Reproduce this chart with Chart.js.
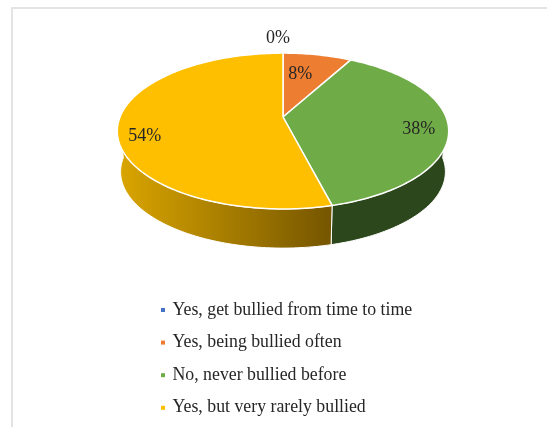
<!DOCTYPE html>
<html>
<head>
<meta charset="utf-8">
<script src="https://cdn.jsdelivr.net/npm/chart.js@4"></script>
<style>
    html, body { margin: 0; padding: 0; background: #fff; overflow: hidden; }
    #wrap { position: relative; width: 547px; height: 427px; }
    #frame { position: absolute; left: 11px; top: 7px; right: 0; bottom: 0;
             border-left: 2px solid #e4e4e4; border-top: 2px solid #e4e4e4; }
    canvas { position: absolute; left: 0; top: 0; }
</style>
</head>
<body>
<div id="wrap">
    <div id="frame"></div>
    <canvas id="pieChart" width="547" height="427"></canvas>
</div>
<script>
const categories = [
    "Yes, get bullied from time to time",
    "Yes, being bullied often",
    "No, never bullied before",
    "Yes, but very rarely bullied"
];
const shares = [0, 8, 38, 54];
const pointLabels = ["0%", "8%", "38%", "54%"];

const faceColors = ["#4472c4", "#ed7d31", "#6fac47", "#fdbf00"];
const fontFamily = '"Liberation Serif", "Times New Roman", serif';

// Disc projection: perspective factor, vertical radius, drop and shrink of the lower rim
const persp = 0.18;
const flatten = 0.4625;
const wallDrop = 41;
const wallShrink = 0.98;

// Moves a point of the flat disc (unit radius, angle clockwise from the top) onto the canvas
function project(el, theta, r, lower) {
    const u = Math.sin(theta) * r;
    const v = -Math.cos(theta) * r;
    const w = 1 - persp * v;
    const s = lower ? wallShrink : 1;
    return {
        x: el.x + el.outerRadius * s * u / w,
        y: el.y + (lower ? wallDrop : 0) + el.outerRadius * flatten * s * v / w
    };
}

function traceRim(ctx, el, from, to, lower) {
    const steps = Math.max(2, Math.ceil(Math.abs(to - from) / 0.02));
    for (let i = 0; i <= steps; i++) {
        const p = project(el, from + (to - from) * i / steps, 1, lower);
        ctx.lineTo(p.x, p.y);
    }
}

function wallFill(ctx, el, index) {
    if (index === 2) return "#2c471c";
    const g = ctx.createLinearGradient(el.x - el.outerRadius, 0, el.x + 47, 0);
    g.addColorStop(0, "#d9a500");
    g.addColorStop(1, "#765600");
    return g;
}

class TiltedArc extends Chart.ArcElement {
    static id = "tiltedArc";

    draw(ctx) {
        const start = this.startAngle + Math.PI / 2;
        const end = this.endAngle + Math.PI / 2;
        if (end - start <= 0) return;

        // Side wall, only for the part of the rim facing the viewer
        const from = Math.max(start, Math.PI / 2);
        const to = Math.min(end, 3 * Math.PI / 2);
        ctx.save();
        ctx.lineJoin = "round";
        if (to > from) {
            ctx.beginPath();
            traceRim(ctx, this, from, to, false);
            traceRim(ctx, this, to, from, true);
            ctx.closePath();
            ctx.fillStyle = wallFill(ctx, this, this.$index);
            ctx.fill();
            ctx.strokeStyle = "#ffffff";
            ctx.lineWidth = 1;
            ctx.stroke();
        }

        // Top face
        const apex = project(this, 0, 0, false);
        ctx.beginPath();
        ctx.moveTo(apex.x, apex.y);
        traceRim(ctx, this, start, end, false);
        ctx.closePath();
        ctx.fillStyle = this.options.backgroundColor;
        ctx.fill();
        ctx.strokeStyle = this.options.borderColor;
        ctx.lineWidth = this.options.borderWidth;
        ctx.stroke();
        ctx.restore();
    }
}

class TiltedPieController extends Chart.PieController {
    static id = "tiltedPie";
    static defaults = { dataElementType: "tiltedArc" };

    updateElements(arcs, start, count, mode) {
        super.updateElements(arcs, start, count, mode);
        arcs.forEach((arc, i) => { arc.$index = start + i; });
    }
}

Chart.register(TiltedArc, TiltedPieController);

// Radial position of each percentage and its small shift in pixels
const labelPlacement = [
    { r: 1, dx: -5, dy: -15 },
    { r: 0.67, dx: -7, dy: 1 },
    { r: 0.83, dx: -1, dy: 4 },
    { r: 0.845, dx: 1, dy: 11 }
];

const percentLabels = {
    id: "percentLabels",
    afterDatasetsDraw(chart) {
        const ctx = chart.ctx;
        ctx.save();
        ctx.font = "18px " + fontFamily;
        ctx.fillStyle = "#262626";
        ctx.textAlign = "center";
        ctx.textBaseline = "middle";
        chart.getDatasetMeta(0).data.forEach((arc, i) => {
            const mid = (arc.startAngle + arc.endAngle) / 2 + Math.PI / 2;
            const place = labelPlacement[i];
            const p = project(arc, mid, place.r, false);
            ctx.fillText(pointLabels[i], p.x + place.dx, p.y + place.dy);
        });
        ctx.restore();
    }
};

// Legend stacked under the pie with tiny square keys
const stackedLegend = {
    id: "stackedLegend",
    afterDraw(chart) {
        const ctx = chart.ctx;
        ctx.save();
        ctx.font = "17.8px " + fontFamily;
        ctx.textBaseline = "middle";
        categories.forEach((name, i) => {
            const y = 310 + i * 32.6;
            ctx.fillStyle = faceColors[i];
            ctx.fillRect(161, y - 2, 4, 4);
            ctx.fillStyle = "#262626";
            ctx.fillText(name, 172.5, y);
        });
        ctx.restore();
    }
};

new Chart(document.getElementById("pieChart"), {
    type: "tiltedPie",
    plugins: [percentLabels, stackedLegend],
    data: {
        labels: categories,
        datasets: [{
            data: shares,
            backgroundColor: faceColors,
            borderColor: "#ffffff",
            borderWidth: 1.5
        }]
    },
    options: {
        responsive: false,
        animation: false,
        radius: 163,
        // Puts the pie's centre at x 283, y 117
        layout: { padding: { left: 19, right: 0, top: 0, bottom: 193 } },
        plugins: {
            legend: { display: false },
            tooltip: { enabled: false }
        }
    }
});
</script>
</body>
</html>
